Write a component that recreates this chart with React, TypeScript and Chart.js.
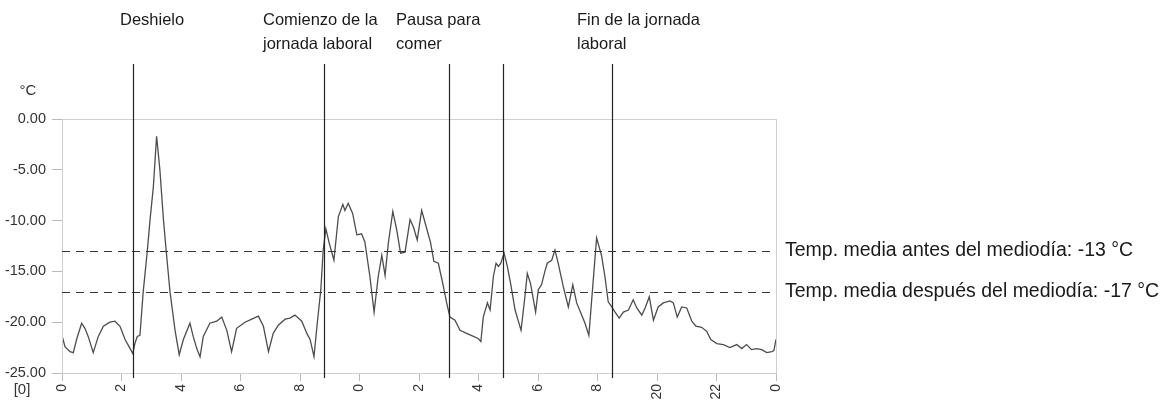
import { useEffect, useRef } from 'react';
import { Chart, registerables } from 'chart.js';

Chart.register(...registerables);

// ---- data ----
const hours = [
  0.0, 0.1, 0.27, 0.38, 0.49, 0.66, 0.77, 0.88, 1.05, 1.22, 1.39, 1.61, 1.78, 1.95, 2.12, 2.29, 2.38, 2.45, 2.53, 2.62,
  2.73, 2.87, 2.96, 3.07, 3.18, 3.29, 3.41, 3.5, 3.63, 3.8, 3.94, 4.08, 4.3, 4.41, 4.53, 4.64, 4.75, 4.97, 5.2, 5.37,
  5.54, 5.7, 5.87, 6.15, 6.38, 6.6, 6.77, 6.94, 7.1, 7.27, 7.5, 7.66, 7.83, 8.06, 8.23, 8.34, 8.47, 8.58, 8.7, 8.78,
  8.87, 8.98, 9.14, 9.29, 9.44, 9.51, 9.62, 9.77, 9.91, 10.07, 10.18, 10.35, 10.49, 10.63, 10.75, 10.86, 10.97, 11.12, 11.25, 11.38,
  11.53, 11.7, 11.81, 11.94, 12.09, 12.26, 12.39, 12.5, 12.65, 12.8, 12.93, 13.04, 13.21, 13.38, 13.6, 13.83, 13.99, 14.08, 14.16, 14.3,
  14.39, 14.5, 14.59, 14.67, 14.75, 14.86, 14.97, 15.08, 15.23, 15.43, 15.56, 15.64, 15.75, 15.92, 16.01, 16.12, 16.24, 16.31, 16.46, 16.57,
  16.68, 16.85, 17.02, 17.17, 17.3, 17.44, 17.58, 17.71, 17.84, 17.97, 18.14, 18.25, 18.36, 18.48, 18.59, 18.73, 18.87, 19.04, 19.2, 19.32,
  19.49, 19.6, 19.74, 19.88, 20.04, 20.21, 20.44, 20.55, 20.68, 20.83, 21.0, 21.17, 21.31, 21.5, 21.67, 21.81, 22.01, 22.23, 22.45, 22.68,
  22.85, 23.01, 23.18, 23.35, 23.52, 23.69, 23.86, 23.93, 24.0,
];
const temps = [
  -21.3, -22.4, -22.9, -23.0, -21.7, -20.1, -20.6, -21.4, -23.0, -21.4, -20.4, -20.0, -19.9, -20.4, -21.7, -22.6, -23.1, -22.1, -21.4, -21.3,
  -17.0, -12.9, -9.9, -6.7, -1.7, -5.0, -9.9, -12.9, -17.0, -20.8, -23.2, -21.7, -20.1, -21.4, -22.6, -23.4, -21.4, -20.1, -19.9, -19.5,
  -20.8, -22.9, -20.6, -20.0, -19.7, -19.4, -20.4, -22.9, -21.1, -20.3, -19.7, -19.6, -19.3, -19.9, -21.1, -21.7, -23.4, -20.1, -16.8, -12.9,
  -10.8, -12.2, -13.9, -9.6, -8.4, -9.0, -8.3, -9.3, -11.4, -11.3, -12.1, -15.5, -19.0, -15.5, -13.4, -15.4, -12.2, -9.1, -10.9, -13.2,
  -13.1, -9.9, -10.6, -11.9, -9.0, -10.8, -12.2, -14.0, -14.2, -16.2, -18.1, -19.5, -19.8, -20.8, -21.1, -21.4, -21.6, -21.9, -19.5, -18.1,
  -18.8, -15.5, -14.2, -14.5, -14.2, -13.2, -14.5, -16.2, -18.8, -20.8, -17.5, -15.2, -16.2, -19.0, -16.8, -16.3, -14.9, -14.2, -13.9, -12.9,
  -14.2, -16.5, -18.5, -16.3, -18.1, -19.1, -20.1, -21.3, -16.5, -11.7, -13.5, -15.5, -18.0, -18.5, -19.0, -19.6, -19.0, -18.8, -17.8, -18.6,
  -19.3, -18.6, -17.5, -19.8, -18.5, -18.1, -17.9, -18.1, -19.5, -18.5, -18.6, -19.9, -20.4, -20.5, -20.9, -21.7, -22.1, -22.2, -22.5, -22.2,
  -22.6, -22.2, -22.7, -22.6, -22.7, -23.0, -22.9, -22.8, -21.7,
];
const xTickValues = [0, 2, 4, 6, 8, 10, 12, 14, 16, 18, 20, 22, 24];
const xTickLabels = ['0', '2', '4', '6', '8', '0', '2', '4', '6', '8', '20', '22', '0'];
const yMin = -25;
const yMax = 0;
const yStep = 5;
const yUnit = '°C';
const xUnit = '[0]';
const eventHours = [2.4, 8.8, 13.01, 14.82, 18.49];
const eventLabels = [
  ['Deshielo'],
  ['Comienzo de la', 'jornada laboral'],
  ['Pausa para', 'comer'],
  ['Fin de la jornada', 'laboral'],
];
const meanLevels = [-13, -17];
const meanLabels = [
  'Temp. media antes del mediodía: -13 °C',
  'Temp. media después del mediodía: -17 °C',
];

// ---- layout (pixels) ----
const W = 1165;
const H = 401;
const labelLeft = [120, 263, 396, 577];
const FAMILY = '"Liberation Sans", Arial, sans-serif';

const overlay = {
  id: 'overlay',
  afterDraw(chart: any) {
    const { ctx, chartArea } = chart;
    const xs = chart.scales.x;
    const ys = chart.scales.y;
    ctx.save();
    // plot frame
    ctx.strokeStyle = '#cfcfcf';
    ctx.lineWidth = 1;
    ctx.strokeRect(chartArea.left + 0.5, chartArea.top + 0.5, chartArea.right - chartArea.left, chartArea.bottom - chartArea.top);
    // dashed mean lines
    ctx.strokeStyle = '#333';
    ctx.lineWidth = 1;
    ctx.setLineDash([8, 6]);
    meanLevels.forEach((v) => {
      const y = Math.round(ys.getPixelForValue(v)) + 0.5;
      ctx.beginPath();
      ctx.moveTo(chartArea.left, y);
      ctx.lineTo(chartArea.right - 6, y);
      ctx.stroke();
    });
    ctx.setLineDash([]);
    // vertical event lines
    ctx.strokeStyle = '#222';
    ctx.lineWidth = 1.2;
    eventHours.forEach((h) => {
      const x = Math.round(xs.getPixelForValue(h)) + 0.5;
      ctx.beginPath();
      ctx.moveTo(x, 64);
      ctx.lineTo(x, chartArea.bottom + 5);
      ctx.stroke();
    });
    // top labels
    ctx.fillStyle = '#1a1a1a';
    ctx.font = '16.5px ' + FAMILY;
    ctx.textBaseline = 'middle';
    ctx.textAlign = 'left';
    eventLabels.forEach((lines, i) => {
      lines.forEach((t, j) => ctx.fillText(t, labelLeft[i], 20 + j * 24));
    });
    // right labels
    ctx.font = '19.5px ' + FAMILY;
    meanLevels.forEach((v, i) => {
      const y = ys.getPixelForValue(v);
      ctx.fillText(meanLabels[i], chartArea.right + 9, y);
    });
    // unit labels
    ctx.font = '15px ' + FAMILY;
    ctx.fillStyle = '#333';
    ctx.textAlign = 'center';
    ctx.fillText(yUnit, 28, 91);
    ctx.fillText(xUnit, 22, 390);
    ctx.restore();
  },
};

export default function App() {
  const ref = useRef<HTMLCanvasElement | null>(null);
  useEffect(() => {
    const canvas = ref.current;
    if (!canvas) return;
    const chart = new Chart(canvas, {
      type: 'line',
      data: {
        datasets: [
          {
            data: hours.map((h, i) => ({ x: h, y: temps[i] })),
            borderColor: '#4d4d4d',
            borderWidth: 1.3,
            pointRadius: 0,
            tension: 0,
            fill: false,
          },
        ],
      },
      options: {
        animation: false,
        responsive: true,
        maintainAspectRatio: false,
        devicePixelRatio: 1,
        layout: { padding: { top: 119, right: 389, left: 0, bottom: 0 } },
        plugins: { legend: { display: false }, tooltip: { enabled: false } },
        scales: {
          x: {
            type: 'linear',
            min: 0,
            max: 24,
            afterFit: (s: any) => {
              s.height = 28;
            },
            afterBuildTicks: (s: any) => {
              s.ticks = xTickValues.map((v) => ({ value: v }));
            },
            grid: { drawOnChartArea: false, drawTicks: true, tickLength: 8, color: '#bbb' },
            border: { display: true, color: '#bbb' },
            ticks: {
              minRotation: 90,
              maxRotation: 90,
              padding: 3,
              color: '#333',
              font: { family: FAMILY, size: 14 },
              callback: (_v: any, i: number) => xTickLabels[i],
            },
          },
          y: {
            min: yMin,
            max: yMax,
            afterFit: (s: any) => {
              s.width = 62;
            },
            grid: { drawOnChartArea: false, drawTicks: true, tickLength: 10, color: '#bbb' },
            border: { display: true, color: '#bbb' },
            ticks: {
              stepSize: yStep,
              padding: 6,
              color: '#333',
              font: { family: FAMILY, size: 14.5 },
              callback: (v: any) => Number(v).toFixed(2),
            },
          },
        },
      },
      plugins: [overlay],
    });
    return () => chart.destroy();
  }, []);
  return (
    <div style={{ position: 'fixed', left: 0, top: 0, width: W, height: H, background: '#fff' }}>
      <canvas ref={ref} />
    </div>
  );
}
